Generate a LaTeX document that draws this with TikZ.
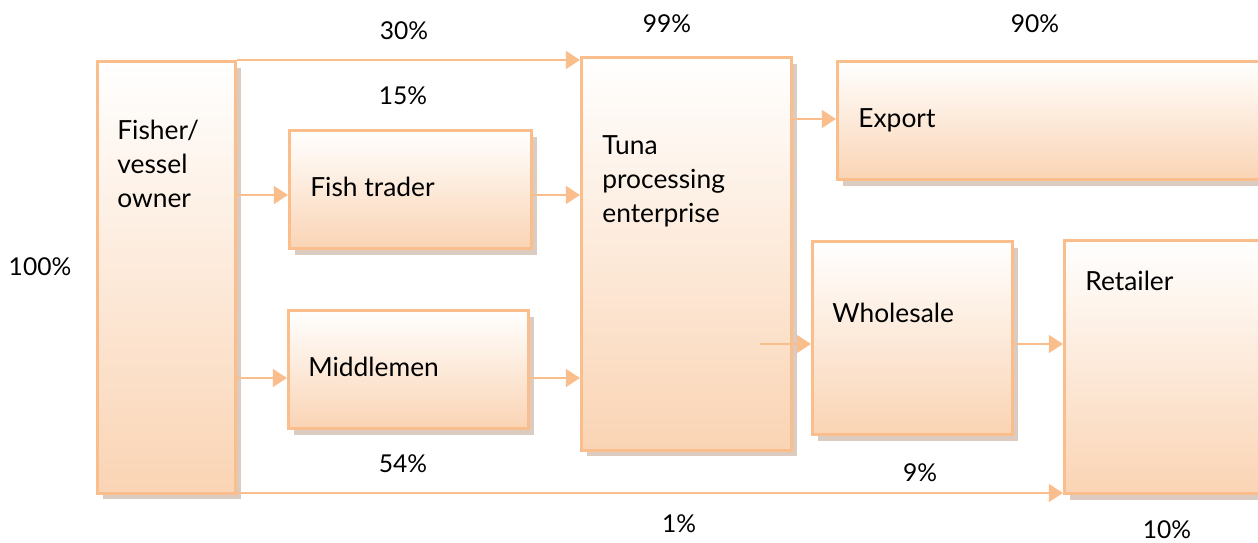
\documentclass[tikz,border=0pt]{standalone}
\usepackage{fontspec}
\setmainfont{Lato}
\usetikzlibrary{arrows.meta, positioning, shadows}

\definecolor{boxline}{RGB}{250,190,140}
\definecolor{boxfill}{RGB}{250,212,180}
\definecolor{boxshadow}{RGB}{190,160,140}

\begin{document}
\begin{tikzpicture}[x=0.02cm, y=-0.02cm,
        stage/.style={draw=boxline, line width=1.6pt, top color=white, bottom color=boxfill, anchor=north west, inner sep=0pt,
            drop shadow={shadow xshift=3pt, shadow yshift=-3.5pt, fill=boxshadow, opacity=0.55}},
        stagetext/.style={anchor=base west, align=left, inner sep=0pt, font=\fontsize{15}{19.5}\selectfont},
        share/.style={anchor=base, inner sep=0pt, font=\fontsize{14}{16}\selectfont},
        flow/.style={draw=boxline, line width=1.6pt, -{Triangle[length=8pt, width=10pt]}}]

        \useasboundingbox (0,0) rectangle (1258,543);

        % Boxes
        \node [stage, minimum width=2.76cm, minimum height=8.64cm] (fisher) at (96,60) {};
        \node [stage, minimum width=4.84cm, minimum height=2.36cm] (trader) at (288,129) {};
        \node [stage, minimum width=4.80cm, minimum height=2.36cm] (middle) at (287,309) {};
        \node [stage, minimum width=4.20cm, minimum height=7.86cm] (tuna) at (580,56) {};
        \node [stage, minimum width=8.68cm, minimum height=2.36cm] (export) at (836,60) {};
        \node [stage, minimum width=4.00cm, minimum height=3.86cm] (whole) at (811,240) {};
        \node [stage, minimum width=4.14cm, minimum height=5.06cm] (retail) at (1063,239) {};

        % Box texts (base = last line)
        \node [stagetext] (fisher-text) at (117,208) {Fisher/\\vessel\\owner};
        \node [stagetext] (trader-text) at (310,197) {Fish trader};
        \node [stagetext] (middle-text) at (308,377) {Middlemen};
        \node [stagetext] (tuna-text) at (602,223) {Tuna\\processing\\enterprise};
        \node [stagetext] (export-text) at (858,128) {Export};
        \node [stagetext] (whole-text) at (832,323) {Wholesale};
        \node [stagetext] (retail-text) at (1085,291) {Retailer};

        % Rows of the arrows
        \coordinate (row-trader) at (0,195);
        \coordinate (row-middle) at (0,378);
        \coordinate (row-export) at (0,119);
        \coordinate (row-whole) at (0,344);
        \coordinate (row-bottom) at (0,493);
        \coordinate (whole-start) at (760,344);

        % Arrows
        \draw [flow] (fisher.north east) -- (fisher.north east -| tuna.west);
        \draw [flow] (fisher.east |- row-trader) -- (trader.west |- row-trader);
        \draw [flow] (trader.east |- row-trader) -- (tuna.west |- row-trader);
        \draw [flow] (fisher.east |- row-middle) -- (middle.west |- row-middle);
        \draw [flow] (middle.east |- row-middle) -- (tuna.west |- row-middle);
        \draw [flow] (tuna.east |- row-export) -- (export.west |- row-export);
        \draw [flow] (whole-start) -- (whole.west |- row-whole);
        \draw [flow] (whole.east |- row-whole) -- (retail.west |- row-whole);
        \draw [flow] (fisher.south east |- row-bottom) -- (retail.west |- row-bottom);

        % Shares
        \node [share] (share-top) at (404,40) {30\%};
        \node [share] (share-tuna) at (667,33) {99\%};
        \node [share] (share-export) at (1035,33) {90\%};
        \node [share] (share-trader) at (403,105) {15\%};
        \node [share] (share-fisher) at (40,276) {100\%};
        \node [share] (share-middle) at (403,473) {54\%};
        \node [share] (share-whole) at (920,482) {9\%};
        \node [share] (share-bottom) at (679,533) {1\%};
        \node [share] (share-retail) at (1167,539) {10\%};
\end{tikzpicture}
\end{document}
